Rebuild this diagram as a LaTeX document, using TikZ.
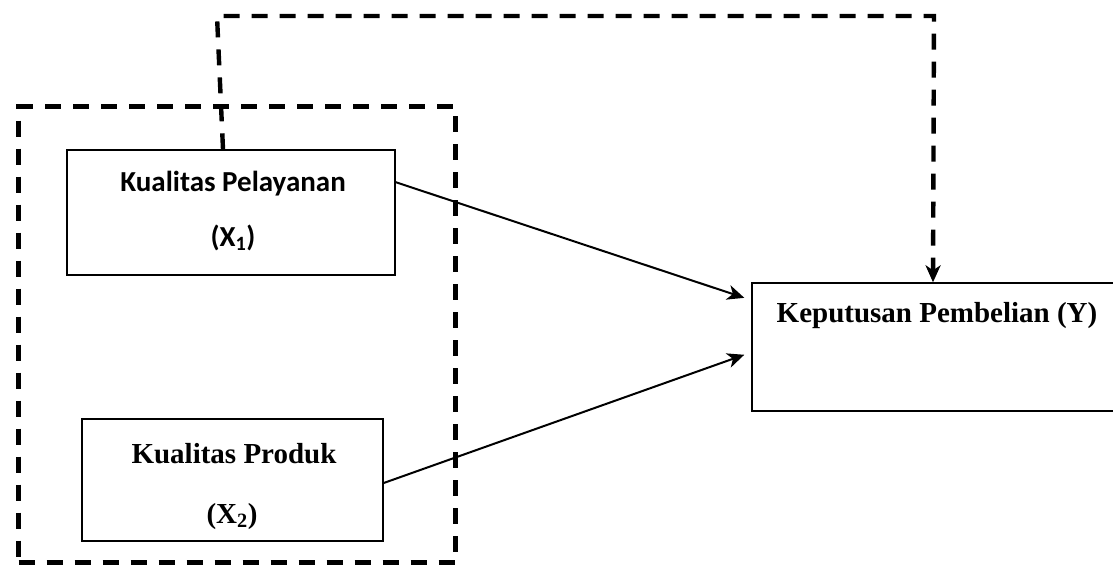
\documentclass[tikz,border=0pt]{standalone}
\usepackage{fontspec}
\setmainfont{Liberation Serif}
\newfontfamily\calfont{Carlito}
\usetikzlibrary{arrows.meta,calc}
\tikzset{
  box/.style={draw, line width=1.4pt, minimum width=#1, inner sep=0pt},
  grpbox/.style={draw, line width=4.4pt, dash pattern=on 16pt off 12pt, inner sep=0pt},
  lbl/.style={anchor=base, inner sep=0pt, font=\fontsize{29}{34}\selectfont\bfseries},
  cal/.style={lbl, font=\fontsize{29}{34}\selectfont\calfont\bfseries},
  conn/.style={line width=2pt, -{Stealth[length=17pt,width=15pt,inset=5pt]}},
  dconn/.style={line width=4.4pt, dash pattern=on 16pt off 12pt, -{Stealth[length=17pt,width=15pt,inset=5pt]}}
}
\begin{document}
\begin{tikzpicture}[x=1pt,y=-1pt]
\useasboundingbox (0,0) rectangle (1113,566);
% group dashed box
\node[grpbox, minimum width=437pt, minimum height=456pt] (grp) at (237,334.5) {};
% boxes
\node[box=328pt, minimum height=125pt] (x1) at (231,212.5) {};
\node[box=301pt, minimum height=122pt] (x2) at (232.5,480) {};
\node[box=362pt, minimum height=128pt] (y) at (933,347) {};
% labels
\node[cal] (x1a) at (233,191) {Kualitas Pelayanan};
\node[cal] (x1b) at (233,246) {(X\textsubscript{1})};
\node[lbl] (x2a) at (234,463) {Kualitas Produk};
\node[lbl] (x2b) at (232,523) {(X\textsubscript{2})};
\node[lbl] (ya) at (937,322) {Keputusan Pembelian (Y)};
% connectors
\coordinate (c1) at (217,16);
\coordinate (c2) at (934,16);
\draw[dconn] ($(x1.north)+(-8,0)$) -- (c1) -- (c2) -- (y.north);
\draw[conn] ($(x1.north east)!0.26!(x1.south east)$) -- ($(y.north west)!0.12!(y.south west)+(-7,0)$);
\draw[conn] ($(x2.east)+(0,3)$) -- ($(y.north west)!0.56!(y.south west)+(-7,0)$);
\end{tikzpicture}
\end{document}
